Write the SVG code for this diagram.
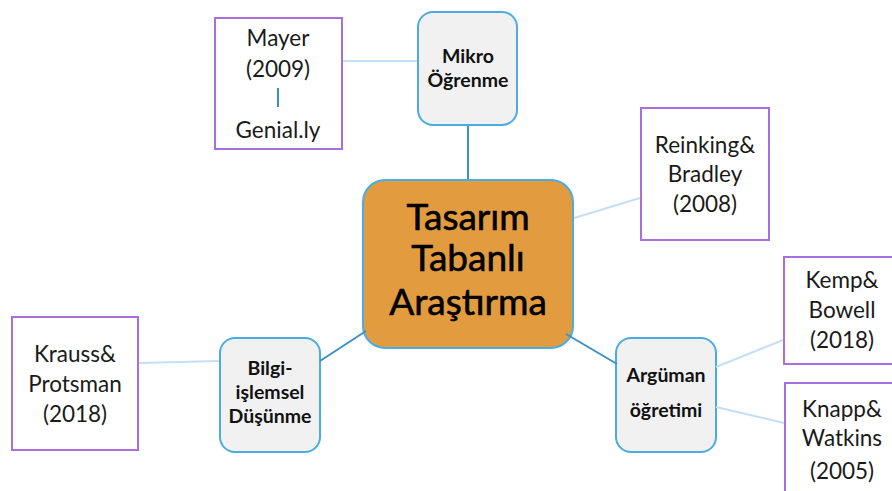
<svg xmlns="http://www.w3.org/2000/svg" width="892" height="491" viewBox="0 0 892 491">
<style>
.ref{fill:#ffffff;stroke:#a96fdc;stroke-width:2}
.topic{fill:#f1f1f1;stroke:#4bace2;stroke-width:2}
.center{fill:#e29c3f;stroke:#4bace2;stroke-width:2}
.lt{font-family:Lato,"Open Sans","Liberation Sans",sans-serif;font-size:22.5px;fill:#1a1a1a;text-anchor:middle}
.bt{font-family:Lato,"Open Sans","Liberation Sans",sans-serif;font-size:19.5px;font-weight:bold;fill:#111;text-anchor:middle}
.ct{font-family:Lato,"Open Sans","Liberation Sans",sans-serif;font-size:37px;fill:#000;stroke:#000;stroke-width:0.6;text-anchor:middle}
.light{stroke:#c4dff3;stroke-width:2;fill:none}
.dark{stroke:#3b90c6;stroke-width:2;fill:none}
</style>
<rect width="892" height="491" fill="#ffffff"/>
<g id="center">
<rect class="center" x="363" y="180" width="210" height="168" rx="22"/>
<text class="ct" x="468" y="230">Tasarım</text>
<text class="ct" x="468" y="271">Tabanlı</text>
<text class="ct" x="468" y="315">Araştırma</text>
</g>
<g id="mikro">
<rect class="topic" x="418" y="12" width="99" height="113" rx="15"/>
<text class="bt" x="468" y="63">Mikro</text>
<text class="bt" x="468" y="87">Öğrenme</text>
</g>
<g id="mayer">
<rect class="ref" x="215" y="18" width="127" height="131"/>
<text class="lt" x="278" y="46">Mayer</text>
<text class="lt" x="278" y="77">(2009)</text>
<text class="lt" x="278" y="138">Genial.ly</text>
</g>
<g id="reinking">
<rect class="ref" x="641" y="108" width="128" height="132"/>
<text class="lt" x="705" y="153">Reinking&amp;</text>
<text class="lt" x="705" y="182">Bradley</text>
<text class="lt" x="705" y="212">(2008)</text>
</g>
<g id="arguman">
<rect class="topic" x="616" y="338" width="100" height="114" rx="15"/>
<text class="bt" x="666" y="382">Argüman</text>
<text class="bt" x="666" y="417">öğretimi</text>
</g>
<g id="kemp">
<rect class="ref" x="784" y="257" width="120" height="107"/>
<text class="lt" x="842" y="288">Kemp&amp;</text>
<text class="lt" x="842" y="318">Bowell</text>
<text class="lt" x="842" y="348">(2018)</text>
</g>
<g id="knapp">
<rect class="ref" x="785" y="383" width="120" height="120"/>
<text class="lt" x="842" y="417">Knapp&amp;</text>
<text class="lt" x="842" y="446">Watkins</text>
<text class="lt" x="842" y="479">(2005)</text>
</g>
<g id="bilgi">
<rect class="topic" x="220" y="338" width="100" height="114" rx="15"/>
<text class="bt" x="270" y="375">Bilgi-</text>
<text class="bt" x="270" y="399">işlemsel</text>
<text class="bt" x="270" y="423">Düşünme</text>
</g>
<g id="krauss">
<rect class="ref" x="12" y="317" width="126" height="133"/>
<text class="lt" x="75" y="362">Krauss&amp;</text>
<text class="lt" x="75" y="392">Protsman</text>
<text class="lt" x="75" y="422">(2018)</text>
</g>
<g id="connectors">
<line class="light" x1="343" y1="61" x2="417" y2="61"/>
<line class="dark" x1="278" y1="88" x2="278" y2="107"/>
<line class="dark" x1="468" y1="126" x2="468" y2="179"/>
<line class="light" x1="574" y1="218" x2="640" y2="198"/>
<line class="dark" x1="566" y1="334" x2="617" y2="364"/>
<line class="light" x1="716" y1="367" x2="783" y2="340"/>
<line class="light" x1="716" y1="407" x2="784" y2="423"/>
<line class="light" x1="139" y1="363" x2="219" y2="361"/>
<line class="dark" x1="320" y1="361" x2="366" y2="331"/>
</g>
</svg>
